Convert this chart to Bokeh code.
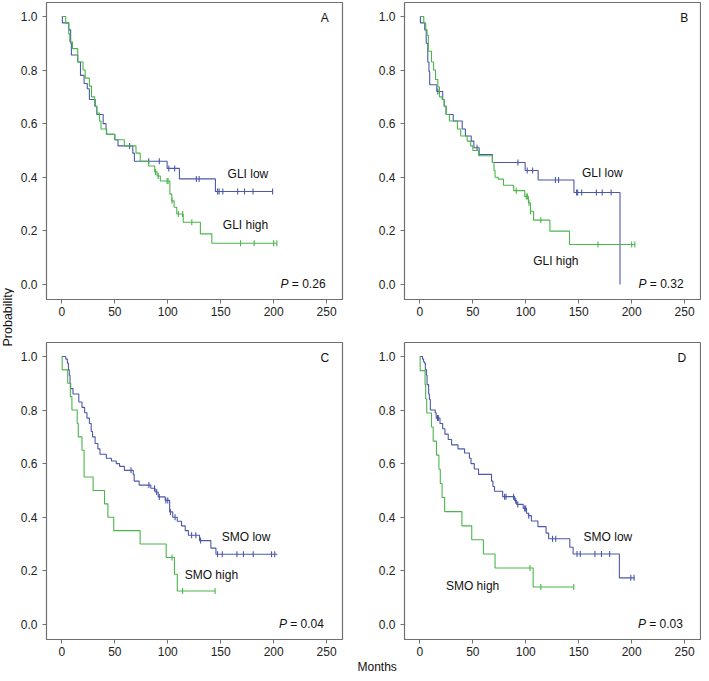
import numpy as np
from bokeh.plotting import figure
from bokeh.layouts import row, column
from bokeh.models import FixedTicker, Label, Range1d, NumeralTickFormatter
from bokeh.core.properties import value
from bokeh.embed import file_html
from bokeh.resources import INLINE

FONT = "Liberation Sans"
BLUE = "#4b59a8"
GREEN = "#4cb54c"
FRAME = "#707070"

# ---------------- data ----------------
x_ticks = [0, 50, 100, 150, 200, 250]
x_tick_labels = ["0", "50", "100", "150", "200", "250"]
y_ticks = [0.0, 0.2, 0.4, 0.6, 0.8, 1.0]
y_tick_labels = ["0.0", "0.2", "0.4", "0.6", "0.8", "1.0"]

panel_letters = ["A", "B", "C", "D"]
p_values = ["0.26", "0.32", "0.04", "0.03"]
low_names = ["GLI low", "GLI low", "SMO low", "SMO low"]
high_names = ["GLI high", "GLI high", "SMO high", "SMO high"]
x_title = "Months"
y_title = "Probability"

# Panel A
a_low_t = [0.5, 6.5, 8.3, 9.0, 15.0, 17.6, 21.0, 24.0, 26.0, 31.5, 33.0, 39.0, 41.7, 42.3, 50.0, 53.0, 67.0, 68.5, 99.4, 111.0, 145.0]
a_low_s = [0.976, 0.95, 0.90, 0.856, 0.83, 0.78, 0.75, 0.73, 0.69, 0.665, 0.634, 0.60, 0.58, 0.56, 0.54, 0.517, 0.49, 0.46, 0.433, 0.394, 0.347]
a_low_c = [64, 82, 92, 101, 106.5, 127, 129.6, 147, 148.5, 152, 166, 172.5, 180.5, 199]
a_low_end = 199
a_high_t = [3.7, 6.5, 7.5, 10.0, 15.0, 20.0, 22.0, 26.0, 28.0, 31.0, 33.0, 35.5, 37.0, 42.0, 50.0, 59.0, 70.0, 74.0, 82.0, 87.7, 90.0, 93.0, 102.0, 103.8, 106.0, 108.5, 114.6, 130.8, 141.6]
a_high_s = [0.975, 0.935, 0.905, 0.88, 0.83, 0.80, 0.77, 0.74, 0.70, 0.665, 0.64, 0.61, 0.58, 0.56, 0.54, 0.517, 0.49, 0.46, 0.442, 0.42, 0.405, 0.386, 0.337, 0.312, 0.288, 0.263, 0.232, 0.189, 0.154]
a_high_c = [88.5, 91, 99.4, 100.3, 104, 110, 114, 122.7, 168.7, 181.6, 200, 203]
a_high_end = 203

# Panel B
b_low_t = [0.5, 4.6, 6.0, 7.5, 8.6, 9.3, 16.0, 21.6, 23.0, 24.7, 31.5, 40.0, 43.0, 48.5, 51.0, 56.0, 68.5, 99.4, 111.7, 145.5, 189.0]
b_low_s = [0.976, 0.95, 0.90, 0.83, 0.794, 0.745, 0.72, 0.69, 0.665, 0.634, 0.61, 0.58, 0.554, 0.535, 0.51, 0.485, 0.455, 0.425, 0.39, 0.343, 0.0]
b_low_c = [17, 54, 92.6, 101.4, 106.5, 128, 131, 148, 149, 152.8, 166.7, 172.2, 180.6]
b_low_end = 189
b_high_t = [3.7, 5.6, 6.8, 8.0, 11.0, 13.0, 14.8, 17.0, 18.5, 21.0, 23.0, 25.0, 28.0, 35.5, 38.6, 44.7, 48.0, 50.0, 55.5, 68.5, 70.0, 71.0, 74.0, 79.0, 88.6, 99.0, 102.5, 104.4, 107.4, 122.8, 141.3]
b_high_s = [0.975, 0.95, 0.93, 0.87, 0.83, 0.80, 0.765, 0.737, 0.70, 0.69, 0.665, 0.634, 0.61, 0.58, 0.554, 0.535, 0.517, 0.50, 0.48, 0.455, 0.425, 0.40, 0.393, 0.37, 0.35, 0.328, 0.305, 0.273, 0.24, 0.199, 0.149]
b_high_c = [91, 100.5, 101.5, 103, 104.5, 114.2, 168.2, 200, 203]
b_high_end = 203

# Panel C
c_low_t = [3.7, 5.2, 6.2, 7.0, 7.7, 8.3, 10.5, 16.0, 19.0, 21.5, 23.7, 26.0, 27.7, 29.0, 31.4, 34.0, 36.0, 42.0, 46.8, 51.4, 54.5, 59.0, 67.4, 68.3, 73.0, 84.0, 88.0, 91.0, 97.6, 101.8, 104.7, 109.0, 113.0, 116.5, 119.5, 130.0, 140.7, 145.5]
c_low_s = [0.99, 0.975, 0.95, 0.93, 0.90, 0.88, 0.86, 0.83, 0.81, 0.79, 0.77, 0.75, 0.72, 0.70, 0.675, 0.655, 0.635, 0.62, 0.61, 0.60, 0.59, 0.575, 0.56, 0.535, 0.52, 0.508, 0.494, 0.476, 0.463, 0.42, 0.40, 0.385, 0.368, 0.35, 0.333, 0.313, 0.285, 0.262]
c_low_c = [65.3, 82.2, 87.5, 89.5, 92.0, 98.2, 100.0, 102.5, 106.9, 122.5, 126.5, 131.0, 147.0, 151.5, 165.3, 171.5, 180.7, 198.0, 201.0]
c_low_end = 203.5
c_high_t = [0.3, 5.5, 8.0, 9.5, 14.5, 15.5, 19.0, 21.0, 29.5, 40.3, 43.5, 49.0, 73.9, 98.5, 106.3, 109.0]
c_high_s = [0.95, 0.90, 0.85, 0.80, 0.75, 0.70, 0.65, 0.55, 0.50, 0.45, 0.40, 0.35, 0.30, 0.25, 0.1875, 0.125]
c_high_c = [104.0, 114.0, 144.7]
c_high_end = 144.7

# Panel D
d_low_t = [2.5, 3.5, 4.3, 5.2, 6.2, 6.8, 8.3, 9.0, 9.9, 14.5, 15.4, 19.0, 21.5, 23.7, 26.8, 30.0, 36.0, 42.2, 46.8, 48.3, 51.4, 55.4, 67.7, 69.0, 70.5, 78.2, 89.5, 91.4, 97.6, 100.7, 102.5, 105.3, 111.5, 119.2, 121.6, 141.6, 144.7, 188.4]
d_low_s = [0.99, 0.98, 0.975, 0.95, 0.93, 0.895, 0.86, 0.84, 0.80, 0.79, 0.77, 0.75, 0.73, 0.71, 0.69, 0.67, 0.655, 0.64, 0.62, 0.60, 0.58, 0.56, 0.535, 0.515, 0.497, 0.477, 0.462, 0.448, 0.433, 0.415, 0.406, 0.386, 0.365, 0.341, 0.32, 0.288, 0.263, 0.174]
d_low_c = [16.6, 17.5, 80.0, 81.3, 88.5, 90.5, 92.5, 99.0, 99.9, 102.8, 125.3, 128.3, 148.4, 151.5, 165.3, 171.5, 179.2, 199.2, 202.3]
d_low_end = 202.5
d_high_t = [0.3, 4.9, 5.5, 6.5, 11.0, 12.6, 15.7, 18.0, 19.3, 21.0, 23.4, 39.7, 49.0, 60.0, 71.0, 107.0]
d_high_s = [0.947, 0.895, 0.842, 0.789, 0.737, 0.684, 0.632, 0.579, 0.526, 0.474, 0.421, 0.368, 0.316, 0.263, 0.211, 0.14]
d_high_c = [104.0, 114.2, 145.3]
d_high_end = 145.3

# ---------------- helpers ----------------
X_RANGE = (-14.5, 265)
Y_RANGE = (-0.056, 1.052)
FW, FH = 296, 297


def surv_at(times, surv, t):
    idx = np.searchsorted(np.asarray(times), np.asarray(t, dtype=float), side="right") - 1
    s = np.asarray([1.0] + list(surv))
    return s[idx + 1]


def draw_curve(p, times, surv, cens, end, color):
    xs = [0.0] + list(times) + [end]
    ys = [1.0] + list(surv) + [surv[-1]]
    p.step(x=xs, y=ys, mode="after", line_color=color, line_width=1.1)
    cy = surv_at(times, surv, cens)
    p.scatter(x=list(cens), y=list(cy), marker="dash", angle=np.pi / 2, size=6,
              line_color=color, line_width=1.1)


def make_panel(i, low, high, left, right, top, bottom, low_pos, high_pos, letter_x, p_x):
    p = figure(frame_width=FW, frame_height=FH,
               x_range=Range1d(*X_RANGE), y_range=Range1d(*Y_RANGE),
               min_border_left=left, min_border_right=right,
               min_border_top=top, min_border_bottom=bottom,
               toolbar_location=None, output_backend="svg",
               background_fill_color="white", border_fill_color="white")
    p.grid.visible = False
    p.outline_line_color = FRAME
    p.outline_line_width = 1.2
    for ax in (p.xaxis[0], p.yaxis[0]):
        ax.axis_line_color = FRAME
        ax.major_tick_line_color = FRAME
        ax.major_tick_in = 0
        ax.major_tick_out = 4
        ax.minor_tick_line_color = None
        ax.major_label_text_font = FONT
        ax.major_label_text_font_size = "12px"
        ax.major_label_text_color = "#222222"
    p.xaxis.ticker = FixedTicker(ticks=x_ticks)
    p.xaxis.major_label_overrides = {t: l for t, l in zip(x_ticks, x_tick_labels)}
    p.xaxis.major_label_standoff = 3
    p.yaxis.ticker = FixedTicker(ticks=y_ticks)
    p.yaxis.formatter = NumeralTickFormatter(format="0.0")
    p.yaxis.major_label_overrides = {t: l for t, l in zip(y_ticks, y_tick_labels)}
    p.yaxis.major_label_standoff = 5

    draw_curve(p, *low, BLUE)
    draw_curve(p, *high, GREEN)

    common = dict(text_font=value(FONT), text_font_size="12px", text_color="#111111",
                  text_baseline="middle")
    p.text(x=[low_pos[0]], y=[low_pos[1]], text=[low_names[i]], text_align="left", **common)
    p.text(x=[high_pos[0]], y=[high_pos[1]], text=[high_names[i]], text_align="left", **common)
    p.text(x=[letter_x], y=[0.995], text=[panel_letters[i]], text_align="right", **common)
    p.text(x=[p_x], y=[0.0], text=["= " + p_values[i]], text_align="right", **common)
    p.text(x=[p_x], y=[0.0], text=["P"], text_align="right", x_offset=-37,
           text_font_style="italic", **common)
    return p


pA = make_panel(0, (a_low_t, a_low_s, a_low_c, a_low_end), (a_high_t, a_high_s, a_high_c, a_high_end),
                32, 8, 2, 38, (156.5, 0.411), (152.0, 0.222), 252.0, 249.0)
pB = make_panel(1, (b_low_t, b_low_s, b_low_c, b_low_end), (b_high_t, b_high_s, b_high_c, b_high_end),
                54, 1, 2, 38, (153.0, 0.417), (107.0, 0.088), 253.5, 249.0)
pC = make_panel(2, (c_low_t, c_low_s, c_low_c, c_low_end), (c_high_t, c_high_s, c_high_c, c_high_end),
                32, 8, 5, 21, (151.0, 0.325), (116.0, 0.186), 252.5, 247.5)
pD = make_panel(3, (d_low_t, d_low_s, d_low_c, d_low_end), (d_high_t, d_high_s, d_high_c, d_high_end),
                54, 1, 5, 21, (154.6, 0.325), (24.6, 0.143), 251.5, 248.4)

top_h = (2 + FH + 38) + (5 + FH + 21)
LAB_W = 14
total_w = LAB_W + (32 + FW + 8) + (54 + FW + 1)

# y axis title (shared), in its own narrow strip
plab = figure(frame_width=LAB_W, frame_height=top_h, x_range=Range1d(0, 1), y_range=Range1d(0, 1),
              min_border=0, x_axis_type=None, y_axis_type=None,
              toolbar_location=None, output_backend="svg")
plab.grid.visible = False
plab.outline_line_color = None
plab.text(x=[0.5], y=[0.52], text=[y_title], angle=np.pi / 2, text_font=value(FONT),
          text_font_size="12.5px", text_color="#111111", text_baseline="middle", text_align="center")

# x axis title (shared), in its own strip
MH = 13
pM = figure(frame_width=total_w, frame_height=MH, x_range=Range1d(0, total_w), y_range=Range1d(0, MH),
            min_border=0, x_axis_type=None, y_axis_type=None,
            toolbar_location=None, output_backend="svg")
pM.grid.visible = False
pM.outline_line_color = None
pM.text(x=[357], y=[MH / 2], text=[x_title], text_font=value(FONT), text_font_size="12px",
        text_color="#111111", text_baseline="middle", text_align="left")

layout = column(row(plab, column(row(pA, pB), row(pC, pD))), pM)

open("out.html", "w").write(file_html(layout, INLINE))
